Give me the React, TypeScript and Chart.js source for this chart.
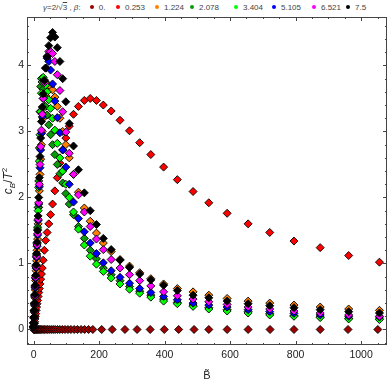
import React, { useEffect, useRef } from "react";
import { Chart, registerables } from "chart.js";
Chart.register(...registerables);

// common B̃ grid for β > 0 series
const B_GRID = [0.3, 0.8, 1.5, 2.3, 3.2, 4.2, 5.3, 6.5, 7.8, 9.2, 10.7, 12.3, 14, 15.8, 17.7, 19.7, 21.8, 24, 26.5, 29.5, 33, 37, 41.5, 46.5, 52, 58, 65, 72.5, 80.5, 89, 98.5, 109, 122, 137, 155, 173, 192, 213, 237, 264, 293, 324, 358, 397, 439, 487, 535, 591, 655, 721, 795, 875, 962, 1056];
// B̃ grid for β = 0
const B_ZERO = [0.5, 1.5, 3, 5, 7, 9.5, 12, 15, 18, 21.5, 25, 29, 33, 38, 43, 48, 54, 60, 66, 73, 80, 88, 96, 105, 114, 124, 134, 145, 156, 168, 181, 208, 240, 279, 316, 356, 399, 443, 490, 535, 591, 655, 722, 795, 875, 960, 1051];

const Y_0 = [0, 0, 0, 0, 0, 0, 0, 0, 0, 0, 0, 0, 0, 0, 0, 0, 0, 0, 0, 0, 0, 0, 0, 0, 0, 0, 0, 0, 0, 0, 0, 0, 0, 0, 0, 0, 0, 0, 0, 0, 0, 0, 0, 0, 0, 0, 0];
const Y_0253 = [0.01, 0.03, 0.06, 0.09, 0.12, 0.16, 0.2, 0.24, 0.29, 0.34, 0.39, 0.44, 0.5, 0.56, 0.62, 0.69, 0.76, 0.84, 0.93, 1.05, 1.2, 1.35, 1.47, 1.6, 1.74, 1.9, 2.1, 2.3, 2.52, 2.72, 2.9, 3.08, 3.26, 3.38, 3.47, 3.5, 3.47, 3.4, 3.31, 3.17, 3.01, 2.83, 2.65, 2.46, 2.27, 2.09, 1.92, 1.76, 1.6, 1.47, 1.34, 1.24, 1.12, 1.02];
const Y_1224 = [0.03, 0.09, 0.17, 0.26, 0.36, 0.48, 0.6, 0.74, 0.89, 1.04, 1.2, 1.37, 1.6, 1.85, 2.1, 2.35, 2.58, 2.8, 3.0, 3.2, 3.38, 3.54, 3.65, 3.7, 3.68, 3.63, 3.52, 3.38, 3.2, 3.0, 2.8, 2.6, 2.35, 2.08, 1.84, 1.64, 1.46, 1.31, 1.18, 1.06, 0.96, 0.86, 0.77, 0.69, 0.62, 0.57, 0.52, 0.47, 0.43, 0.4, 0.37, 0.34, 0.31, 0.29];
const Y_2078 = [0.04, 0.1, 0.19, 0.29, 0.4, 0.52, 0.66, 0.81, 0.97, 1.13, 1.3, 1.55, 1.85, 2.25, 2.75, 3.3, 3.68, 3.8, 3.75, 3.64, 3.51, 3.38, 3.25, 3.1, 2.95, 2.8, 2.65, 2.5, 2.36, 2.22, 2.06, 1.9, 1.74, 1.56, 1.38, 1.2, 1.07, 0.93, 0.83, 0.74, 0.65, 0.58, 0.52, 0.46, 0.41, 0.37, 0.33, 0.3, 0.27, 0.24, 0.21, 0.19, 0.17, 0.16];
const Y_3404 = [0.04, 0.1, 0.19, 0.29, 0.39, 0.51, 0.64, 0.79, 0.95, 1.11, 1.28, 1.52, 1.8, 2.15, 2.55, 2.95, 3.3, 3.58, 3.75, 3.82, 3.78, 3.7, 3.6, 3.48, 3.35, 3.2, 3.02, 2.82, 2.6, 2.4, 2.2, 2.0, 1.78, 1.52, 1.28, 1.11, 0.99, 0.88, 0.78, 0.69, 0.61, 0.55, 0.49, 0.43, 0.39, 0.35, 0.31, 0.28, 0.25, 0.22, 0.2, 0.18, 0.16, 0.15];
const Y_5105 = [0.04, 0.1, 0.18, 0.28, 0.38, 0.5, 0.63, 0.77, 0.93, 1.09, 1.26, 1.43, 1.65, 1.9, 2.17, 2.45, 2.72, 2.97, 3.22, 3.5, 3.76, 3.96, 4.11, 4.06, 3.93, 3.72, 3.46, 3.21, 2.98, 2.72, 2.46, 2.2, 1.93, 1.68, 1.48, 1.31, 1.15, 1.01, 0.89, 0.79, 0.7, 0.62, 0.56, 0.5, 0.45, 0.4, 0.37, 0.34, 0.3, 0.27, 0.245, 0.22, 0.2, 0.19];
const Y_6521 = [0.04, 0.1, 0.18, 0.28, 0.39, 0.51, 0.65, 0.79, 0.95, 1.11, 1.28, 1.45, 1.67, 1.92, 2.2, 2.5, 2.77, 3.02, 3.26, 3.5, 3.74, 3.96, 4.14, 4.21, 4.21, 4.18, 4.06, 3.86, 3.62, 3.3, 2.99, 2.67, 2.35, 2.04, 1.78, 1.56, 1.37, 1.21, 1.06, 0.93, 0.83, 0.74, 0.66, 0.57, 0.51, 0.46, 0.42, 0.38, 0.34, 0.31, 0.28, 0.25, 0.22, 0.2];
const Y_75 = [0.04, 0.1, 0.19, 0.29, 0.4, 0.53, 0.67, 0.82, 0.98, 1.15, 1.32, 1.5, 1.72, 2.0, 2.3, 2.62, 2.9, 3.15, 3.37, 3.57, 3.77, 3.96, 4.13, 4.3, 4.42, 4.5, 4.43, 4.27, 4.06, 3.8, 3.45, 3.12, 2.78, 2.42, 2.07, 1.8, 1.59, 1.38, 1.21, 1.05, 0.94, 0.84, 0.75, 0.67, 0.59, 0.52, 0.48, 0.43, 0.39, 0.36, 0.33, 0.3, 0.27, 0.25];

const BETA_LABELS = ["0.", "0.253", "1.224", "2.078", "3.404", "5.105", "6.521", "7.5"];
const COLORS = ["#9E0000", "#FF0000", "#FF8000", "#0A9B0A", "#00FF00", "#0000FF", "#FF00FF", "#000000"];
const X_VALUES = [B_ZERO, B_GRID, B_GRID, B_GRID, B_GRID, B_GRID, B_GRID, B_GRID];
const Y_VALUES = [Y_0, Y_0253, Y_1224, Y_2078, Y_3404, Y_5105, Y_6521, Y_75];

const X_MAJOR = [0, 200, 400, 600, 800, 1000];
const X_MINOR = [50, 100, 150, 250, 300, 350, 450, 500, 550, 650, 700, 750, 850, 900, 950, 1050];
const Y_MAJOR = [0, 1, 2, 3, 4];
const Y_MINOR = [-0.2, 0.2, 0.4, 0.6, 0.8, 1.2, 1.4, 1.6, 1.8, 2.2, 2.4, 2.6, 2.8, 3.2, 3.4, 3.6, 3.8, 4.2, 4.4, 4.6];

const FONT = '"Liberation Sans", Arial, sans-serif';

const framePlugin = {
  id: "frame",
  afterDraw(chart: any) {
    const { ctx, chartArea, scales } = chart;
    const { left, right, top, bottom } = chartArea;
    const xs = scales.x;
    const ys = scales.y;
    ctx.save();
    ctx.strokeStyle = "#444";
    ctx.lineWidth = 1;
    ctx.strokeRect(left + 0.5, top + 0.5, right - left - 1, bottom - top - 1);
    ctx.beginPath();
    const xt = (v: number, len: number) => {
      const p = Math.round(xs.getPixelForValue(v)) + 0.5;
      ctx.moveTo(p, bottom);
      ctx.lineTo(p, bottom - len);
      ctx.moveTo(p, top);
      ctx.lineTo(p, top + len);
    };
    const yt = (v: number, len: number) => {
      const p = Math.round(ys.getPixelForValue(v)) + 0.5;
      ctx.moveTo(left, p);
      ctx.lineTo(left + len, p);
      ctx.moveTo(right, p);
      ctx.lineTo(right - len, p);
    };
    X_MAJOR.forEach((v) => xt(v, 4));
    X_MINOR.forEach((v) => xt(v, 2));
    Y_MAJOR.forEach((v) => yt(v, 4));
    Y_MINOR.forEach((v) => yt(v, 2));
    ctx.stroke();

    // x title
    ctx.fillStyle = "#222";
    ctx.font = `11px ${FONT}`;
    ctx.textAlign = "center";
    ctx.textBaseline = "alphabetic";
    ctx.fillText("B\u0303", (left + right) / 2, 379);

    // y title
    const parts = [
      { t: "c", f: `italic 12px ${FONT}`, dy: 0 },
      { t: "B", f: `italic 8px ${FONT}`, dy: 3 },
      { t: "/", f: `12px ${FONT}`, dy: 0 },
      { t: "T", f: `italic 12px ${FONT}`, dy: 0 },
      { t: "2", f: `8px ${FONT}`, dy: -5 },
    ];
    let total = 0;
    const widths = parts.map((p) => {
      ctx.font = p.f;
      const w = ctx.measureText(p.t).width;
      total += w;
      return w;
    });
    ctx.translate(12, (top + bottom) / 2);
    ctx.rotate(-Math.PI / 2);
    ctx.textAlign = "left";
    let u = -total / 2;
    parts.forEach((p, i) => {
      ctx.font = p.f;
      ctx.fillText(p.t, u, p.dy);
      u += widths[i];
    });
    ctx.restore();
  },
};

export default function App() {
  const ref = useRef<HTMLCanvasElement | null>(null);
  useEffect(() => {
    if (!ref.current) return;
    const datasets = BETA_LABELS.map((lab, i) => ({
      label: lab,
      data: X_VALUES[i].map((b, j) => ({ x: b, y: Y_VALUES[i][j] })),
      backgroundColor: COLORS[i],
      borderColor: "rgba(0,0,0,0.9)",
      borderWidth: 1,
      pointStyle: "rectRot",
      pointRadius: 4,
      showLine: false,
    })).reverse();
    const chart = new Chart(ref.current, {
      type: "scatter",
      data: { datasets } as any,
      options: {
        animation: false,
        responsive: false,
        events: [],
        layout: { padding: { top: 17, right: 2, left: 0, bottom: 0 } },
        plugins: { legend: { display: false }, tooltip: { enabled: false } },
        scales: {
          x: {
            type: "linear",
            min: -20,
            max: 1079,
            afterFit: (s: any) => {
              s.height = 37;
            },
            grid: { display: false, drawTicks: false },
            border: { display: false },
            ticks: {
              stepSize: 200,
              includeBounds: false,
              autoSkip: false,
              maxRotation: 0,
              padding: 4,
              color: "#222",
              font: { family: FONT, size: 10.5 },
              callback: (v: any) => String(v),
            },
          },
          y: {
            type: "linear",
            min: -0.235,
            max: 4.734,
            afterFit: (s: any) => {
              s.width = 27;
            },
            grid: { display: false, drawTicks: false },
            border: { display: false },
            ticks: {
              stepSize: 1,
              includeBounds: false,
              autoSkip: false,
              padding: 3,
              color: "#222",
              font: { family: FONT, size: 10.5 },
              callback: (v: any) => String(v),
            },
          },
        },
      } as any,
      plugins: [framePlugin],
    });
    return () => chart.destroy();
  }, []);

  const dotX = [91.7, 118, 157, 192, 236, 274, 314, 348];
  return (
    <div style={{ position: "fixed", left: 0, top: 0, width: 392, height: 382, background: "#fff" }}>
      <div style={{ position: "absolute", left: 0, top: 0, width: 392, height: 16, fontFamily: FONT, fontSize: 8, lineHeight: "9px", color: "#444" }}>
        <span style={{ position: "absolute", left: 43, top: 3, whiteSpace: "nowrap" }}>
          <i>γ</i>=2/√<span style={{ textDecoration: "overline" }}>3</span> , <i>β</i>:
        </span>
        {BETA_LABELS.map((lab, i) => (
          <React.Fragment key={lab}>
            <span style={{ position: "absolute", left: dotX[i] - 2, top: 5.3, width: 4, height: 4, borderRadius: "50%", background: COLORS[i] }} />
            <span style={{ position: "absolute", left: dotX[i] + 7, top: 3, whiteSpace: "nowrap" }}>{lab}</span>
          </React.Fragment>
        ))}
      </div>
      <canvas ref={ref} width={392} height={382} style={{ position: "absolute", left: 0, top: 0, display: "block" }} />
    </div>
  );
}
